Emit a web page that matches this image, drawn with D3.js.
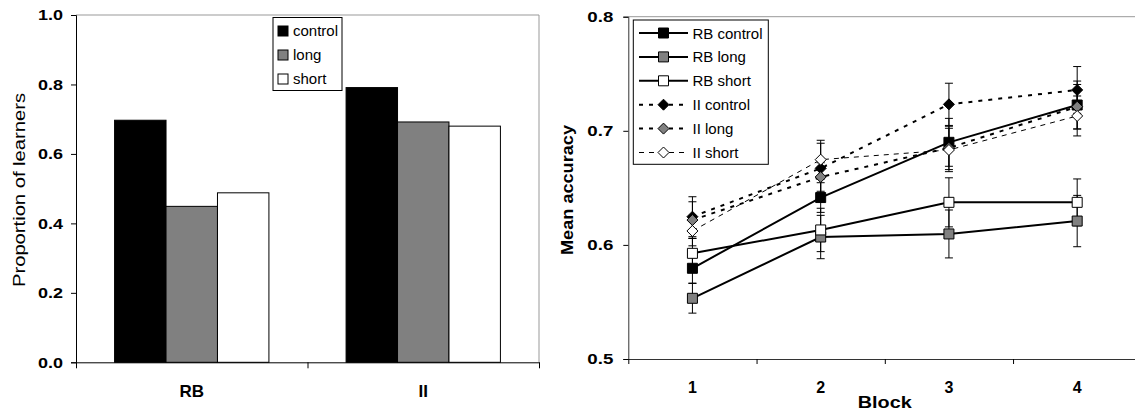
<!DOCTYPE html>
<html><head><meta charset="utf-8">
<script src="https://cdn.jsdelivr.net/npm/d3@7"></script>
<style>body{margin:0;background:#fff}svg{display:block;font-family:"Liberation Sans",Arial,sans-serif}</style>
</head><body><svg id="c" width="1135" height="413"></svg>
<script>
// ---- Left chart data ----
const groups = ["RB", "II"];
const conditions = ["control", "long", "short"];
const propControl = [0.697, 0.791];
const propLong = [0.449, 0.692];
const propShort = [0.488, 0.680];
const propTicks = [0, 0.2, 0.4, 0.6, 0.8, 1.0];
// ---- Right chart data ----
const blocks = [1, 2, 3, 4];
const rbControl = [0.5795, 0.6415, 0.6899, 0.7226];
const rbLong = [0.5532, 0.6069, 0.6096, 0.6209];
const rbShort = [0.5926, 0.6131, 0.6373, 0.6373];
const iiControl = [0.6247, 0.6671, 0.7232, 0.7358];
const iiLong = [0.6218, 0.6595, 0.6850, 0.7211];
const iiShort = [0.6122, 0.6747, 0.6832, 0.7130];
const rbControlSE = [0.013, 0.013, 0.021, 0.021];
const rbLongSE = [0.013, 0.019, 0.021, 0.0225];
const rbShortSE = [0.013, 0.019, 0.0215, 0.0205];
const iiControlSE = [0.0175, 0.022, 0.0185, 0.0205];
const iiLongSE = [0.016, 0.0125, 0.019, 0.0195];
const iiShortSE = [0.013, 0.017, 0.019, 0.0175];
const accTicks = [0.5, 0.6, 0.7, 0.8];
const seriesNames = ["RB control", "RB long", "RB short", "II control", "II long", "II short"];

const svg = d3.select("#c");
const fills = {control: "#000", long: "#808080", short: "#fff"};

// ================= LEFT CHART =================
const L = {x0: 76, x1: 539, y0: 362.3, y1: 15};
const yL = d3.scaleLinear().domain([0, 1]).range([L.y0, L.y1]);
const xL = d3.scaleBand().domain(groups).range([L.x0, L.x1]);
const xLin = d3.scaleBand().domain(conditions).range([0, xL.bandwidth()]).paddingOuter(0.75);
const xLticks = d3.scaleLinear().domain([0, groups.length]).range([L.x0, L.x1]);
const propVals = {control: propControl, long: propLong, short: propShort};

const gL = svg.append("g");
// border
gL.append("path").attr("d", `M${L.x0},${L.y1}H${L.x1}V${L.y0}`).attr("fill", "none").attr("stroke", "#999").attr("stroke-width", 1);
// bars
groups.forEach((g, gi) => {
  conditions.forEach(c => {
    gL.append("rect")
      .attr("x", xL(g) + xLin(c)).attr("width", xLin.bandwidth())
      .attr("y", yL(propVals[c][gi])).attr("height", yL(0) - yL(propVals[c][gi]))
      .attr("fill", fills[c]).attr("stroke", "#000").attr("stroke-width", 1);
  });
});
// y axis
const ayL = gL.append("g").attr("transform", `translate(${L.x0},0)`)
  .call(d3.axisLeft(yL).tickValues(propTicks).tickFormat(d3.format(".1f")).tickSize(5).tickPadding(8));
ayL.select(".domain").attr("stroke", "#000");
ayL.selectAll("text").attr("font-size", 15).attr("font-weight", "bold").attr("fill", "#000").attr("font-family", "Liberation Sans, Arial")
  .attr("textLength", 25).attr("lengthAdjust", "spacingAndGlyphs");
// x axis
const axL = gL.append("g").attr("transform", `translate(0,${L.y0})`)
  .call(d3.axisBottom(xLticks).tickValues([0, 1, 2]).tickFormat("").tickSize(6).tickSizeOuter(0));
axL.select(".domain").attr("stroke", "#000");
gL.selectAll(".catL").data(groups).join("text").attr("class", "catL")
  .attr("x", d => xL(d) + xL.bandwidth() / 2).attr("y", 397)
  .attr("text-anchor", "middle").attr("font-size", 17).attr("font-weight", "bold").text(d => d);
// y title
gL.append("text").attr("transform", "translate(25,190) rotate(-90)")
  .attr("text-anchor", "middle").attr("font-size", 16)
  .attr("textLength", 194).attr("lengthAdjust", "spacingAndGlyphs").text("Proportion of learners");
// legend
const lgL = gL.append("g");
lgL.append("rect").attr("x", 273).attr("y", 17.5).attr("width", 69).attr("height", 73)
  .attr("fill", "#fff").attr("stroke", "#000").attr("stroke-width", 1);
conditions.forEach((c, i) => {
  const cy = 31 + i * 24;
  lgL.append("rect").attr("x", 278).attr("y", cy - 5).attr("width", 10).attr("height", 10)
    .attr("fill", fills[c]).attr("stroke", "#000").attr("stroke-width", 1);
  lgL.append("text").attr("x", 293).attr("y", cy + 5).attr("font-size", 15).text(c);
});

// ================= RIGHT CHART =================
const R = {x0: 628.3, x1: 1141.3, y0: 359, y1: 16.7};
const yR = d3.scaleLinear().domain([0.5, 0.8]).range([R.y0, R.y1]);
const xR = d3.scalePoint().domain(blocks).range([R.x0, R.x1]).padding(0.5);
const xRticks = d3.scaleLinear().domain([0, blocks.length]).range([R.x0, R.x1]);
const gR = svg.append("g");
gR.append("line").attr("x1", R.x0).attr("x2", 1135).attr("y1", R.y1).attr("y2", R.y1).attr("stroke", "#999");

const ayR = gR.append("g").attr("transform", `translate(${R.x0},0)`)
  .call(d3.axisLeft(yR).tickValues(accTicks).tickFormat(d3.format(".1f")).tickSize(5).tickPadding(10));
ayR.select(".domain").attr("stroke", "#333");
ayR.selectAll("text").attr("font-size", 15).attr("font-weight", "bold").attr("fill", "#000").attr("font-family", "Liberation Sans, Arial")
  .attr("textLength", 26).attr("lengthAdjust", "spacingAndGlyphs");
const axR = gR.append("g").attr("transform", `translate(0,${R.y0})`)
  .call(d3.axisBottom(xRticks).tickValues([0, 1, 2, 3, 4]).tickFormat("").tickSize(5).tickSizeOuter(0));
axR.select(".domain").attr("stroke", "#333");
gR.selectAll(".catR").data(blocks).join("text").attr("class", "catR")
  .attr("x", d => xR(d)).attr("y", 393).attr("text-anchor", "middle")
  .attr("font-size", 16).attr("font-weight", "bold").text(d => d);
gR.append("text").attr("x", (R.x0 + R.x1) / 2).attr("y", 408).attr("text-anchor", "middle")
  .attr("font-size", 17).attr("font-weight", "bold")
  .attr("textLength", 54).attr("lengthAdjust", "spacingAndGlyphs").text("Block");
gR.append("text").attr("transform", "translate(573,190) rotate(-90)")
  .attr("text-anchor", "middle").attr("font-size", 16).attr("font-weight", "bold")
  .attr("textLength", 130).attr("lengthAdjust", "spacingAndGlyphs").text("Mean accuracy");

const series = [
  {name: seriesNames[0], vals: rbControl, se: rbControlSE, shape: "square", fill: "#000", dash: null, w: 2},
  {name: seriesNames[1], vals: rbLong, se: rbLongSE, shape: "square", fill: "#808080", dash: null, w: 2},
  {name: seriesNames[2], vals: rbShort, se: rbShortSE, shape: "square", fill: "#fff", dash: null, w: 2},
  {name: seriesNames[3], vals: iiControl, se: iiControlSE, shape: "diamond", fill: "#000", dash: "4,6", w: 2},
  {name: seriesNames[4], vals: iiLong, se: iiLongSE, shape: "diamond", fill: "#808080", dash: "4,6", w: 2},
  {name: seriesNames[5], vals: iiShort, se: iiShortSE, shape: "diamond", fill: "#fff", dash: "5,5", w: 1},
];
function markerPath(shape, x, y) {
  if (shape === "square") return `M${x - 5},${y - 5}h10v10h-10Z`;
  return `M${x},${y - 5.5}L${x + 5.5},${y}L${x},${y + 5.5}L${x - 5.5},${y}Z`;
}
const line = d3.line().x(d => xR(d[0])).y(d => yR(d[1]));
series.forEach(s => {
  const pts = blocks.map((b, i) => [b, s.vals[i]]);
  gR.append("path").attr("d", line(pts)).attr("fill", "none").attr("stroke", "#000")
    .attr("stroke-width", s.w).attr("stroke-dasharray", s.dash);
  blocks.forEach((b, i) => {
    const x = xR(b), yt = yR(s.vals[i] + s.se[i]), yb = yR(s.vals[i] - s.se[i]);
    gR.append("path").attr("d", `M${x},${yt}V${yb}M${x - 4},${yt}h8M${x - 4},${yb}h8`)
      .attr("stroke", "#000").attr("stroke-width", 1).attr("fill", "none");
  });
});
series.forEach(s => {
  blocks.forEach((b, i) => {
    gR.append("path").attr("d", markerPath(s.shape, xR(b), yR(s.vals[i])))
      .attr("fill", s.fill).attr("stroke", "#000").attr("stroke-width", 1);
  });
});
// legend
const lgR = gR.append("g");
lgR.append("rect").attr("x", 633.3).attr("y", 20).attr("width", 135).attr("height", 144.3)
  .attr("fill", "#fff").attr("stroke", "#000").attr("stroke-width", 1);
series.forEach((s, i) => {
  const cy = 33 + i * 23.9;
  lgR.append("line").attr("x1", 639).attr("x2", 688).attr("y1", cy).attr("y2", cy)
    .attr("stroke", "#000").attr("stroke-width", s.w).attr("stroke-dasharray", s.dash);
  lgR.append("path").attr("d", markerPath(s.shape, 663.5, cy))
    .attr("fill", s.fill).attr("stroke", "#000").attr("stroke-width", 1);
  lgR.append("text").attr("x", 692.5).attr("y", cy + 5.5).attr("font-size", 15).text(s.name);
});
</script></body></html>
